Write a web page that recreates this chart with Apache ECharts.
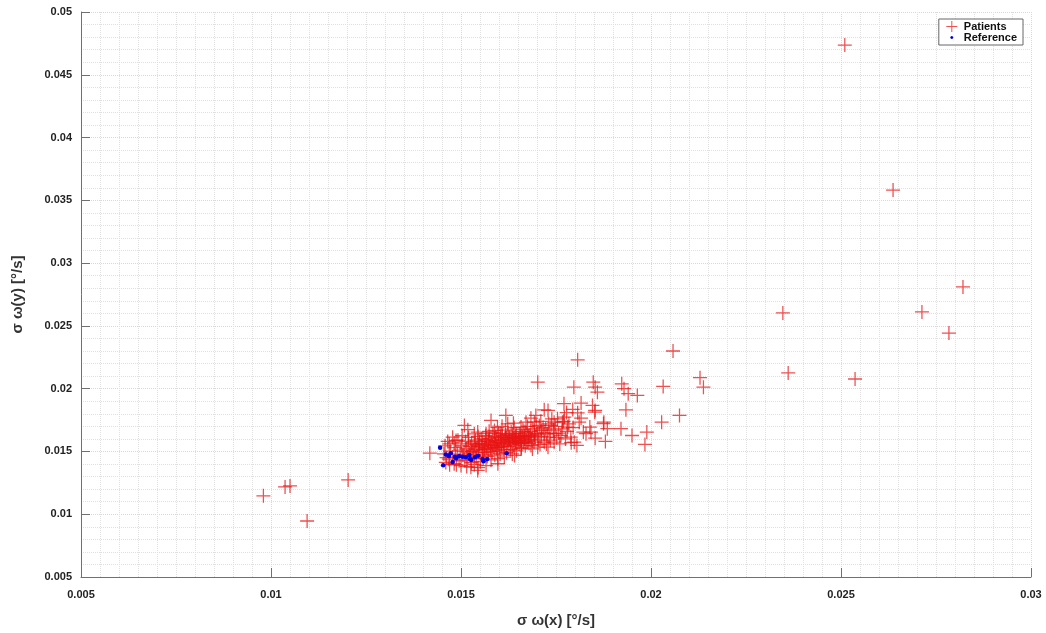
<!DOCTYPE html>
<html>
<head>
<meta charset="utf-8">
<script src="https://cdn.jsdelivr.net/npm/echarts@6/dist/echarts.min.js"></script>
<style>
html,body{margin:0;padding:0;background:#fff;}
#chart{width:1046px;height:633px;}
</style>
</head>
<body>
<div id="chart"></div>
<script>
// ---- Data (σ ω(x), σ ω(y)) in °/s ----
const seriesNames = ['Patients', 'Reference'];
const xTicks = [0.005, 0.01, 0.015, 0.02, 0.025, 0.03];
const yTicks = [0.005, 0.01, 0.015, 0.02, 0.025, 0.03, 0.035, 0.04, 0.045, 0.05];

const patientsOutliers = [
  [0.02510,0.04737],[0.02637,0.03582],[0.02821,0.02810],[0.02347,0.02603],[0.02713,0.02611],
  [0.02784,0.02443],[0.02361,0.02125],[0.02537,0.02077],[0.02058,0.02300],[0.01203,0.01273],
  [0.00980,0.01147],[0.01037,0.01217],[0.01050,0.01225],[0.01095,0.00946]
];

const patientsOuter = [
  [0.01807,0.02230],[0.01702,0.02052],[0.01797,0.02012],[0.01848,0.02052],[0.01853,0.02012],
  [0.01859,0.01972],[0.01923,0.02039],[0.01929,0.02000],[0.01940,0.01960],[0.01964,0.01946],
  [0.02032,0.02018],[0.02129,0.02087],[0.02138,0.02012],[0.01816,0.01885],[0.01771,0.01880],
  [0.01846,0.01866],[0.01853,0.01827],[0.01934,0.01832],[0.01719,0.01832],[0.02075,0.01787],
  [0.02028,0.01733],[0.01876,0.01733],[0.01921,0.01681],[0.01950,0.01627],[0.01989,0.01654],
  [0.01984,0.01556],[0.01880,0.01580],[0.01853,0.01606],[0.01805,0.01548],[0.01822,0.01654],
  [0.01852,0.01813],[0.01875,0.01721],[0.01885,0.01681],[0.01839,0.01694],[0.01729,0.01827],
  [0.01794,0.01835],[0.01807,0.01808],[0.01816,0.01765],[0.01811,0.01733],[0.01697,0.01787],
  [0.01684,0.01765],[0.01671,0.01733],[0.01693,0.01733],[0.01658,0.01694],[0.01706,0.01707],
  [0.01745,0.01733],[0.01754,0.01760],[0.01772,0.01773],[0.01767,0.01733],[0.01781,0.01694],
  [0.01737,0.01707],[0.01842,0.01654],[0.01829,0.01641],[0.01789,0.01614],[0.01798,0.01574],
  [0.01745,0.01641],[0.01732,0.01614],[0.01719,0.01574],[0.01745,0.01574],[0.01763,0.01627],
  [0.01711,0.01667],[0.01693,0.01641],[0.01679,0.01614],[0.01666,0.01659],[0.01645,0.01614],
  [0.01636,0.01641],[0.01684,0.01548],[0.01702,0.01534],[0.01729,0.01534],[0.01658,0.01522],
  [0.01579,0.01747],[0.01618,0.01787],[0.01638,0.01725],[0.01509,0.01707],[0.01518,0.01673],
  [0.01478,0.01614],[0.01487,0.01588],[0.01469,0.01561],[0.01544,0.01654],[0.01566,0.01641],
  [0.01588,0.01667],[0.01605,0.01641],[0.01418,0.01486],[0.01526,0.01375],[0.01544,0.01349],
  [0.01566,0.01388],[0.01597,0.01402],[0.01500,0.01388],[0.01482,0.01402],[0.01597,0.01442],
  [0.01614,0.01455],[0.01641,0.01468]
];

const patientsCore = [
  [0.01472,0.01502],[0.01478,0.01455],[0.01485,0.01530],[0.01490,0.01478],[0.01495,0.01425],
  [0.01482,0.01568],[0.01498,0.01510],[0.01468,0.01438],[0.01492,0.01590],
  [0.01502,0.01545],[0.01505,0.01470],[0.01508,0.01498],[0.01510,0.01432],[0.01512,0.01580],
  [0.01515,0.01520],[0.01518,0.01455],[0.01520,0.01612],[0.01522,0.01488],[0.01525,0.01540],
  [0.01527,0.01410],[0.01528,0.01568],[0.01503,0.01625],
  [0.01532,0.01505],[0.01534,0.01475],[0.01536,0.01552],[0.01538,0.01590],[0.01540,0.01445],
  [0.01542,0.01528],[0.01545,0.01620],[0.01547,0.01495],[0.01549,0.01560],[0.01551,0.01418],
  [0.01553,0.01538],[0.01555,0.01600],[0.01557,0.01472],[0.01558,0.01515],[0.01535,0.01640],
  [0.01548,0.01580],
  [0.01561,0.01555],[0.01563,0.01490],[0.01565,0.01625],[0.01567,0.01530],[0.01569,0.01460],
  [0.01571,0.01578],[0.01573,0.01512],[0.01575,0.01605],[0.01577,0.01548],[0.01579,0.01432],
  [0.01580,0.01570],[0.01582,0.01498],[0.01584,0.01650],[0.01586,0.01535],[0.01588,0.01588],
  [0.01589,0.01470],[0.01566,0.01595],[0.01574,0.01660],
  [0.01591,0.01552],[0.01593,0.01612],[0.01595,0.01505],[0.01597,0.01575],[0.01599,0.01640],
  [0.01601,0.01530],[0.01603,0.01480],[0.01605,0.01595],[0.01607,0.01560],[0.01609,0.01625],
  [0.01611,0.01515],[0.01613,0.01585],[0.01615,0.01545],[0.01617,0.01670],[0.01619,0.01608],
  [0.01620,0.01490],[0.01596,0.01690],[0.01608,0.01700],
  [0.01622,0.01568],[0.01624,0.01630],[0.01626,0.01540],[0.01628,0.01598],[0.01630,0.01515],
  [0.01632,0.01655],[0.01634,0.01578],[0.01636,0.01612],[0.01638,0.01550],[0.01640,0.01690],
  [0.01642,0.01590],[0.01644,0.01625],[0.01646,0.01505],[0.01648,0.01570],[0.01623,0.01720],
  [0.01635,0.01480],
  [0.01651,0.01605],[0.01653,0.01560],[0.01655,0.01640],[0.01657,0.01585],[0.01659,0.01530],
  [0.01661,0.01620],[0.01663,0.01675],[0.01665,0.01572],[0.01667,0.01600],[0.01669,0.01545],
  [0.01671,0.01650],[0.01673,0.01590],[0.01675,0.01700],[0.01677,0.01620],[0.01679,0.01565],
  [0.01682,0.01630],[0.01686,0.01598],[0.01689,0.01680],[0.01692,0.01575],[0.01695,0.01615],
  [0.01698,0.01700],[0.01701,0.01640],[0.01704,0.01590],[0.01708,0.01555],[0.01712,0.01620],
  [0.01716,0.01690],[0.01719,0.01650],[0.01688,0.01520],[0.01710,0.01740],
  [0.01723,0.01680],[0.01727,0.01640],[0.01731,0.01720],[0.01735,0.01590],[0.01739,0.01760],
  [0.01743,0.01670],[0.01748,0.01700],[0.01752,0.01610],[0.01757,0.01645],[0.01760,0.01560],
  [0.01725,0.01560],
  [0.01766,0.01680],[0.01770,0.01740],[0.01775,0.01600],[0.01779,0.01660],[0.01784,0.01720],
  [0.01790,0.01570],[0.01795,0.01690],[0.01778,0.01810],
  [0.01455,0.01480],[0.01460,0.01412],[0.01462,0.01450],[0.01470,0.01395],[0.01488,0.01395],
  [0.01515,0.01380],[0.01535,0.01395],[0.01558,0.01440],[0.01545,0.01372],[0.01458,0.01545],
  [0.01465,0.01580],
  [0.01556,0.01562],[0.01572,0.01585],[0.01583,0.01545],[0.01590,0.01620],[0.01598,0.01560],
  [0.01604,0.01612],[0.01612,0.01570],[0.01618,0.01630],[0.01625,0.01585],[0.01631,0.01560],
  [0.01639,0.01605],[0.01645,0.01640],[0.01652,0.01590],[0.01660,0.01565],[0.01668,0.01625],
  [0.01676,0.01580],[0.01684,0.01660],[0.01694,0.01630],[0.01539,0.01515],[0.01546,0.01545],
  [0.01562,0.01520],[0.01578,0.01525],[0.01594,0.01530],[0.01606,0.01540],[0.01616,0.01600],
  [0.01627,0.01615],[0.01643,0.01575],[0.01656,0.01615],[0.01519,0.01560],[0.01529,0.01500]
];

const referenceData = [
  [0.01445,0.01530],[0.01453,0.01390],[0.01473,0.01485],[0.01468,0.01464],[0.01484,0.01458],
  [0.01487,0.01445],[0.01478,0.01416],[0.01504,0.01458],[0.01513,0.01453],[0.01522,0.01472],
  [0.01524,0.01437],[0.01527,0.01432],[0.01537,0.01453],[0.01557,0.01440],[0.01559,0.01422],
  [0.01569,0.01440],[0.01620,0.01485],[0.01460,0.01475],[0.01495,0.01462],[0.01545,0.01465]
];

const patientsData = patientsOutliers.concat(patientsOuter, patientsCore);

// ---- Chart ----
const plusPath = 'path://M-0.09,-1H0.09V-0.09H1V0.09H0.09V1H-0.09V0.09H-1V-0.09H-0.09Z';
const dotIcon = 'path://M0,0L0.01,0L0,0.01Z M14,11L13.99,11L14,10.99Z M7,4L8.1,4.4L8.6,5.5L8.1,6.6L7,7L5.9,6.6L5.4,5.5L5.9,4.4Z';
const FONT = '"Liberation Sans", Arial, sans-serif';
const fmt = v => String(+(+v).toFixed(3));

const chart = echarts.init(document.getElementById('chart'), null, {renderer: 'canvas'});
chart.setOption({
  backgroundColor: '#ffffff',
  animation: false,
  textStyle: {fontFamily: FONT},
  grid: {left: 81, right: 15, top: 12, bottom: 56, containLabel: false},
  legend: {
    right: 23, top: 19, orient: 'vertical',
    backgroundColor: '#fff', borderColor: '#666', borderWidth: 1, borderRadius: 0,
    padding: [2, 6, 2, 6], itemGap: 0, itemWidth: 14, itemHeight: 11,
    textStyle: {fontFamily: FONT, fontSize: 11, fontWeight: 'bold', color: '#111', lineHeight: 11},
    data: [{name: seriesNames[0], icon: plusPath}, {name: seriesNames[1], icon: dotIcon}]
  },
  xAxis: {
    type: 'value', min: xTicks[0], max: xTicks[xTicks.length - 1], interval: 0.005,
    name: 'σ ω(x) [°/s]', nameLocation: 'middle', nameGap: 36,
    nameTextStyle: {fontFamily: FONT, fontSize: 15, fontWeight: 'bold', color: '#333'},
    axisLine: {show: true, onZero: false, lineStyle: {color: '#707070', width: 1}},
    axisTick: {show: true, inside: true, length: 9, lineStyle: {color: '#707070'}},
    minorTick: {show: false, splitNumber: 10},
    axisLabel: {margin: 12, fontFamily: FONT, fontSize: 11, fontWeight: 'bold', color: '#222', formatter: fmt},
    splitLine: {show: true, lineStyle: {type: 'dotted', color: '#d8d8d8', width: 1}},
    minorSplitLine: {show: true, lineStyle: {type: 'dotted', color: '#e0e0e0', width: 1}}
  },
  yAxis: {
    type: 'value', min: yTicks[0], max: yTicks[yTicks.length - 1], interval: 0.005,
    name: 'σ ω(y) [°/s]', nameLocation: 'middle', nameGap: 56, nameRotate: 90,
    nameTextStyle: {fontFamily: FONT, fontSize: 15, fontWeight: 'bold', color: '#333'},
    axisLine: {show: true, onZero: false, lineStyle: {color: '#707070', width: 1}},
    axisTick: {show: true, inside: true, length: 9, lineStyle: {color: '#707070'}},
    minorTick: {show: false, splitNumber: 5},
    axisLabel: {margin: 9, fontFamily: FONT, fontSize: 11, fontWeight: 'bold', color: '#222', formatter: fmt},
    splitLine: {show: true, lineStyle: {type: 'dotted', color: '#d8d8d8', width: 1}},
    minorSplitLine: {show: true, lineStyle: {type: 'dotted', color: '#e0e0e0', width: 1}}
  },
  series: [
    {
      name: seriesNames[0], type: 'scatter', data: patientsData,
      symbol: plusPath, symbolSize: 14,
      itemStyle: {color: 'rgba(232,20,20,0.75)', opacity: 1},
      emphasis: {disabled: true}, z: 2
    },
    {
      name: seriesNames[1], type: 'scatter', data: referenceData,
      symbol: 'circle', symbolSize: 4.5,
      itemStyle: {color: '#0000e0', opacity: 1},
      emphasis: {disabled: true}, z: 3
    }
  ]
});
</script>
</body>
</html>
